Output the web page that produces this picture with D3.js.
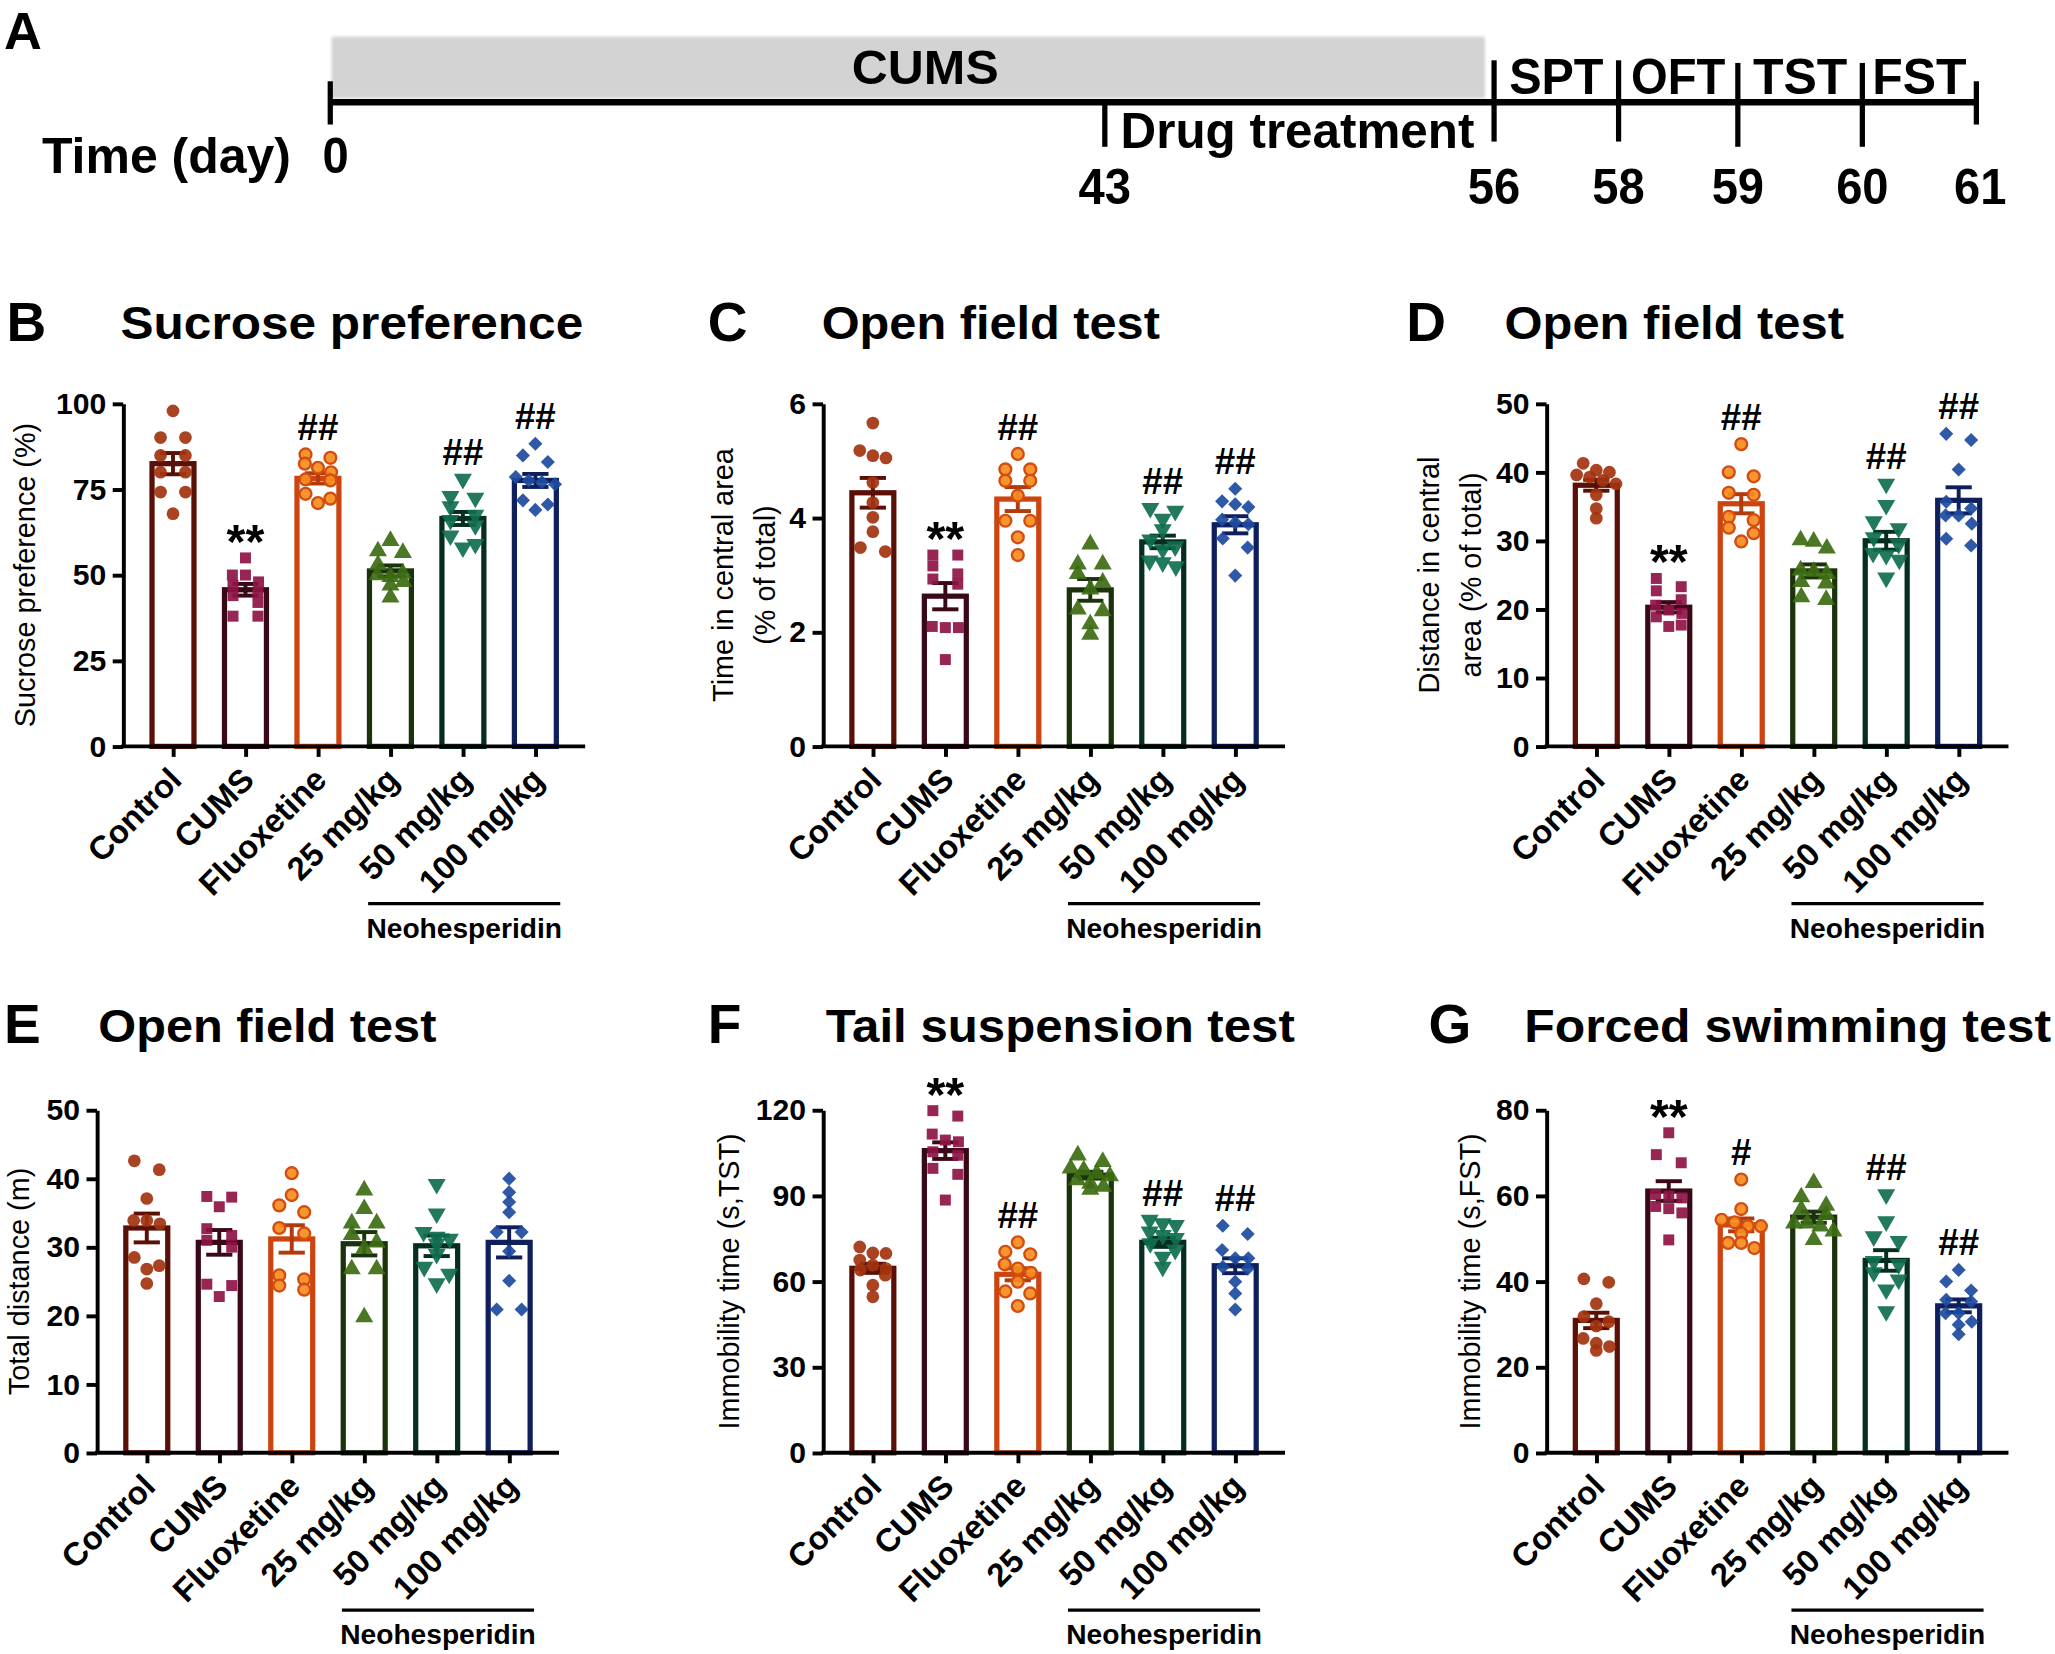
<!DOCTYPE html>
<html>
<head>
<meta charset="utf-8">
<script src="https://cdn.jsdelivr.net/npm/d3@7"></script>
<style>
  body { margin: 0; background: #fff; }
  text { font-family: "Liberation Sans", Arial, sans-serif; fill: #000; }
  .narrow { font-family: "Liberation Sans Narrow", "Arial Narrow", "Liberation Sans", sans-serif; font-weight: bold; }
</style>
</head>
<body>
<script>
// ---- data ----
const groups = ['Control', 'CUMS', 'Fluoxetine', '25 mg/kg', '50 mg/kg', '100 mg/kg'];

const timelineDays = [0, 43, 56, 58, 59, 60, 61];
const timelinePhases = ['SPT', 'OFT', 'TST', 'FST'];

// B: sucrose preference (%)
const sucrosePoints = [
  [97.9, 90.1, 90.1, 84.9, 84.9, 80.0, 80.0, 74.2, 74.2, 67.9],
  [55, 50, 50, 48, 47, 45, 44, 42, 38, 38],
  [85.2, 84.2, 82.5, 81.3, 80.0, 77.9, 77.6, 73.7, 72.3, 71.0],
  [60, 57, 56.5, 53, 50.5, 50, 49.5, 48, 47, 43.5],
  [78, 73, 72.5, 70, 67.5, 66, 64.5, 61.5, 59, 58],
  [88.3, 84.9, 83.0, 78.6, 77.6, 77.1, 76.5, 71.8, 70.6, 69.0]
];
const sucroseMeans = [82.5, 45.7, 78.2, 51.2, 66.5, 77.6];
const sucroseSems = [3.1, 1.7, 1.5, 1.6, 1.9, 1.9];
const sucroseSig = ['', '**', '##', '', '##', '##'];

// C: time in central area (% of total)
const centralTimePoints = [
  [5.66, 5.18, 5.09, 5.05, 4.62, 4.27, 4.01, 3.76, 3.48, 3.41],
  [3.35, 3.35, 3.16, 3.02, 2.93, 2.84, 2.10, 2.08, 2.08, 1.52],
  [5.12, 4.85, 4.85, 4.65, 4.65, 4.39, 3.95, 3.95, 3.66, 3.35],
  [3.54, 3.19, 3.19, 3.02, 2.87, 2.75, 2.40, 2.37, 2.14, 1.96],
  [4.17, 4.12, 3.98, 3.80, 3.62, 3.50, 3.45, 3.25, 3.22, 3.15],
  [4.51, 4.29, 4.24, 4.19, 3.97, 3.92, 3.89, 3.64, 3.48, 2.99]
];
const centralTimeMeans = [4.44, 2.63, 4.33, 2.74, 3.58, 3.88];
const centralTimeSems = [0.26, 0.23, 0.21, 0.19, 0.11, 0.15];
const centralTimeSig = ['', '**', '##', '', '##', '##'];

// D: distance in central area (% of total)
const centralDistPoints = [
  [41.3, 40.3, 40.0, 39.6, 39.3, 38.8, 38.3, 36.7, 34.7, 33.3],
  [24.5, 23.3, 22.7, 21.4, 20.6, 19.9, 19.4, 18.9, 17.7, 17.5],
  [44.1, 40.0, 39.4, 37.0, 36.7, 33.5, 33.0, 31.9, 31.1, 29.9],
  [30.1, 29.9, 28.9, 25.7, 25.5, 25.2, 24.0, 23.8, 21.8, 21.4],
  [38.3, 35.2, 32.8, 31.8, 30.5, 29.5, 28.2, 27.9, 27.2, 24.6],
  [45.6, 44.7, 40.4, 35.7, 34.7, 33.7, 33.7, 32.5, 30.3, 29.3]
];
const centralDistMeans = [38.1, 20.3, 35.4, 25.6, 30.0, 35.9];
const centralDistSems = [0.8, 0.75, 1.4, 0.95, 1.3, 1.9];
const centralDistSig = ['', '**', '##', '', '##', '##'];

// E: total distance (m)
const totalDistPoints = [
  [42.6, 41.3, 37.1, 33.9, 33.9, 33.4, 28.5, 27.3, 26.8, 24.7],
  [37.4, 37.3, 35.9, 32.7, 31.7, 31.0, 30.0, 24.6, 24.4, 22.8],
  [40.8, 37.6, 36.1, 35.1, 32.8, 32.0, 25.9, 25.3, 24.4, 23.8],
  [38.3, 35.6, 33.5, 33.5, 31.8, 30.7, 29.8, 26.8, 26.8, 19.8],
  [39.2, 34.9, 32.2, 31.5, 31.2, 30.5, 29.0, 27.1, 26.1, 24.7],
  [40.0, 38.0, 36.6, 35.1, 32.2, 32.2, 29.4, 25.1, 20.9, 20.9]
];
const totalDistMeans = [32.8, 30.7, 31.2, 30.5, 30.2, 30.7];
const totalDistSems = [2.1, 1.8, 2.0, 1.7, 1.5, 2.2];
const totalDistSig = ['', '', '', '', '', ''];

// F: immobility time, TST (s)
const tstPoints = [
  [72.1, 70.0, 69.8, 67.5, 65.7, 64.5, 64.0, 62.2, 58.7, 54.6],
  [119.8, 117.9, 111.6, 109.5, 108.9, 105.4, 104.2, 99.6, 97.5, 88.5],
  [73.7, 70.4, 69.5, 66.0, 64.5, 63.0, 59.9, 56.5, 55.8, 51.4],
  [104.2, 101.9, 99.6, 99.0, 97.8, 96.9, 95.5, 94.3, 93.2, 92.2],
  [81.5, 80.3, 79.7, 77.4, 76.2, 75.1, 73.3, 71.0, 68.6, 65.1],
  [79.5, 76.6, 71.0, 68.1, 68.1, 65.1, 64.5, 59.9, 55.8, 50.2]
];
const tstMeans = [64.6, 105.8, 62.5, 97.2, 73.7, 65.5];
const tstSems = [1.6, 2.9, 2.1, 1.2, 1.6, 2.6];
const tstSig = ['', '**', '##', '', '##', '##'];

// G: immobility time, FST (s)
const fstPoints = [
  [40.6, 39.8, 34.8, 31.8, 30.6, 29.6, 26.7, 25.6, 24.8, 23.9],
  [74.7, 69.6, 67.7, 60.3, 59.9, 59.5, 57.5, 57.0, 56.0, 49.7],
  [63.8, 56.9, 54.4, 53.8, 52.9, 52.9, 51.2, 49.0, 49.0, 47.8],
  [63.0, 59.7, 57.7, 56.8, 55.6, 53.6, 53.6, 52.9, 51.7, 49.7],
  [60.3, 54.0, 50.5, 49.4, 44.7, 44.0, 42.1, 40.4, 38.1, 33.0],
  [42.7, 40.0, 37.9, 35.7, 35.3, 32.6, 32.6, 30.6, 29.9, 27.7]
];
const fstMeans = [30.9, 61.1, 53.2, 55.0, 44.9, 34.3];
const fstSems = [1.8, 2.3, 1.5, 1.3, 2.4, 1.5];
const fstSig = ['', '**', '#', '', '##', '##'];

// ---- styles ----
const W = 1568, H = 1262;
const barColours = ['#5a1006', '#3a0918', '#cc4510', '#1b330c', '#062e20', '#0e1f5c'];
const dotColours = ['#a3330f', '#8f1446', '#f68c1f', '#3d6d13', '#0f6e4f', '#1d4b9f'];
const dotStroke = ['none', 'none', '#d24d0f', 'none', 'none', 'none'];
const dotTypes = [d3.symbolCircle, d3.symbolSquare, d3.symbolCircle, d3.symbolTriangle, d3.symbolTriangle, d3.symbolSquare];
const dotRotate = [0, 0, 0, 0, 180, 45];
const dotSize = [74, 70, 64, 82, 82, 58];

const svg = d3.select('body').append('svg')
  .attr('xmlns', 'http://www.w3.org/2000/svg')
  .attr('width', 2055)
  .attr('height', 1654)
  .attr('viewBox', `0 0 ${W} ${H}`);

svg.append('rect').attr('width', W).attr('height', H).attr('fill', '#fff');

const defs = svg.append('defs');
defs.append('filter').attr('id', 'soft')
  .attr('x', '-5%').attr('y', '-20%').attr('width', '110%').attr('height', '140%')
  .append('feGaussianBlur').attr('stdDeviation', 1.2);

// ---- panel A: timeline ----
const timeX = d3.scaleLinear()
  .domain(timelineDays)
  .range([252, 843, 1140, 1235, 1326, 1421, 1508]);
const lineY = 78;
const tl = svg.append('g');

tl.append('text').attr('x', 3).attr('y', 37)
  .attr('font-size', 40).attr('font-weight', 'bold').text('A');

tl.append('rect')
  .attr('x', timeX(0) + 1).attr('y', 28)
  .attr('width', timeX(56) - timeX(0) - 8).attr('height', lineY - 31)
  .attr('fill', '#d3d3d3').attr('filter', 'url(#soft)');

tl.append('text').attr('class', 'narrow')
  .attr('x', (timeX(0) + timeX(56)) / 2 + 10).attr('y', 64)
  .attr('text-anchor', 'middle').attr('font-size', 37)
  .attr('textLength', 112).attr('lengthAdjust', 'spacingAndGlyphs')
  .text('CUMS');

tl.append('line')
  .attr('x1', timeX(0)).attr('x2', timeX(61))
  .attr('y1', lineY).attr('y2', lineY)
  .attr('stroke', '#000').attr('stroke-width', 5);

const tickSpan = d => d === 0 || d === 61 ? [-16, 17] : d === 43 ? [0, 34] : d < 59 ? [-32, 30] : [-30, 34];
tl.selectAll('line.tick').data(timelineDays).enter().append('line')
  .attr('class', 'tick')
  .attr('x1', d => timeX(d)).attr('x2', d => timeX(d))
  .attr('y1', d => lineY + tickSpan(d)[0]).attr('y2', d => lineY + tickSpan(d)[1])
  .attr('stroke', '#000').attr('stroke-width', 4);

tl.selectAll('text.day').data(timelineDays).enter().append('text')
  .attr('class', 'day narrow')
  .attr('x', d => timeX(d) + (d === 0 ? 4 : d === 61 ? 3 : 0))
  .attr('y', d => d === 0 ? 132 : 156)
  .attr('text-anchor', 'middle').attr('font-size', 38)
  .attr('textLength', d => String(d).length * 20).attr('lengthAdjust', 'spacingAndGlyphs')
  .text(d => d);

tl.append('text').attr('class', 'narrow')
  .attr('x', 32).attr('y', 132).attr('font-size', 38)
  .attr('textLength', 190).attr('lengthAdjust', 'spacingAndGlyphs')
  .text('Time (day)');

tl.append('text').attr('class', 'narrow')
  .attr('x', timeX(43) + 12).attr('y', 113).attr('font-size', 38)
  .attr('textLength', 270).attr('lengthAdjust', 'spacingAndGlyphs')
  .text('Drug treatment');

tl.selectAll('text.phase').data(timelinePhases).enter().append('text')
  .attr('class', 'phase narrow')
  .attr('x', (d, i) => (timeX(timelineDays[i + 2]) + timeX(timelineDays[i + 3])) / 2)
  .attr('y', 72).attr('text-anchor', 'middle').attr('font-size', 38)
  .attr('textLength', 72).attr('lengthAdjust', 'spacingAndGlyphs')
  .text(d => d);

// ---- bar panels ----
const panels = [
  { letter: 'B', title: 'Sucrose preference', titleW: 353, yTitle: ['Sucrose preference (%)'], yTitleX: [27],
    points: sucrosePoints, means: sucroseMeans, sems: sucroseSems, sig: sucroseSig,
    domain: [0, 100], ticks: [0, 25, 50, 75, 100], left: 94, top: 308, letterX: 5, titleX: 92 },
  { letter: 'C', title: 'Open field test', titleW: 258, yTitle: ['Time in central area', '(% of total)'], yTitleX: [559, 591],
    points: centralTimePoints, means: centralTimeMeans, sems: centralTimeSems, sig: centralTimeSig,
    domain: [0, 6], ticks: [0, 2, 4, 6], left: 628, top: 308, letterX: 540, titleX: 627 },
  { letter: 'D', title: 'Open field test', titleW: 259, yTitle: ['Distance in central', 'area (% of total)'], yTitleX: [1098, 1130],
    points: centralDistPoints, means: centralDistMeans, sems: centralDistSems, sig: centralDistSig,
    domain: [0, 50], ticks: [0, 10, 20, 30, 40, 50], left: 1180, top: 308, letterX: 1073, titleX: 1148 },
  { letter: 'E', title: 'Open field test', titleW: 258, yTitle: ['Total distance (m)'], yTitleX: [22],
    points: totalDistPoints, means: totalDistMeans, sems: totalDistSems, sig: totalDistSig,
    domain: [0, 50], ticks: [0, 10, 20, 30, 40, 50], left: 74, top: 847, letterX: 3, titleX: 75 },
  { letter: 'F', title: 'Tail suspension test', titleW: 358, yTitle: ['Immobility time (s,TST)'], yTitleX: [564],
    points: tstPoints, means: tstMeans, sems: tstSems, sig: tstSig,
    domain: [0, 120], ticks: [0, 30, 60, 90, 120], left: 628, top: 847, letterX: 540, titleX: 630 },
  { letter: 'G', title: 'Forced swimming test', titleW: 402, yTitle: ['Immobility time (s,FST)'], yTitleX: [1129],
    points: fstPoints, means: fstMeans, sems: fstSems, sig: fstSig,
    domain: [0, 80], ticks: [0, 20, 40, 60, 80], left: 1180, top: 847, letterX: 1090, titleX: 1163 }
];

const plotH = 261.5;
const step = 55.3;
const firstGap = 38;
const axisLen = firstGap + step * 5 + 38;
const barW = 36;

// GraphPad-like scatter: values at nearly the same height share a row
function swarm(vals, y, tol) {
  const order = d3.range(vals.length).sort((a, b) => vals[b] - vals[a]);
  const off = new Array(vals.length).fill(0);
  let row = [];
  const flush = () => {
    const n = row.length;
    const gap = n === 2 ? 19 : 10;
    row.forEach((k, i) => { off[k] = (i - (n - 1) / 2) * gap; });
  };
  order.forEach(k => {
    if (row.length && (Math.abs(y(vals[k]) - y(vals[row[0]])) > tol || row.length === 4)) {
      flush();
      row = [];
    }
    row.push(k);
  });
  flush();
  return off;
}

panels.forEach(p => {
  const bottom = p.top + plotH;
  const g = svg.append('g');

  const x = d3.scalePoint()
    .domain(groups)
    .range([p.left + firstGap, p.left + firstGap + step * 5]);
  const y = d3.scaleLinear().domain(p.domain).range([bottom, p.top]);

  // headings
  const rowBase = p.top < 500 ? 259 : 795;
  g.append('text').attr('x', p.letterX).attr('y', rowBase + 1)
    .attr('font-size', 42).attr('font-weight', 'bold').text(p.letter);
  g.append('text').attr('x', p.titleX).attr('y', rowBase)
    .attr('font-size', 35).attr('font-weight', 'bold')
    .attr('textLength', p.titleW).attr('lengthAdjust', 'spacingAndGlyphs')
    .text(p.title);

  // y titles
  p.yTitle.forEach((t, i) => {
    g.append('text')
      .attr('transform', `translate(${p.yTitleX[i]},${(p.top + bottom) / 2}) rotate(-90)`)
      .attr('text-anchor', 'middle').attr('font-size', 22)
      .text(t);
  });

  // bars
  g.selectAll('rect.bar').data(p.means).enter().append('rect')
    .attr('class', 'bar')
    .attr('x', (d, i) => x(groups[i]) - barW / 2 + 2)
    .attr('width', barW - 4)
    .attr('y', d => y(d))
    .attr('height', d => bottom - y(d))
    .attr('fill', '#fff')
    .attr('stroke', (d, i) => barColours[i])
    .attr('stroke-width', 4);

  // error bars (mean ± SEM)
  const eb = g.selectAll('g.err').data(p.means).enter().append('g')
    .attr('class', 'err')
    .attr('stroke', (d, i) => i === 2 ? '#b33a0c' : barColours[i])
    .attr('stroke-width', 3);
  eb.append('line')
    .attr('x1', (d, i) => x(groups[i])).attr('x2', (d, i) => x(groups[i]))
    .attr('y1', (d, i) => y(d - p.sems[i])).attr('y2', (d, i) => y(d + p.sems[i]));
  [-1, 1].forEach(s => {
    eb.append('line')
      .attr('x1', (d, i) => x(groups[i]) - 10).attr('x2', (d, i) => x(groups[i]) + 10)
      .attr('y1', (d, i) => y(d + s * p.sems[i])).attr('y2', (d, i) => y(d + s * p.sems[i]));
  });

  // individual animals
  p.points.forEach((vals, i) => {
    const off = swarm(vals, y, 7);
    const sym = d3.symbol().type(dotTypes[i]).size(dotSize[i]);
    g.append('g').selectAll('path').data(vals).enter().append('path')
      .attr('d', sym)
      .attr('transform', (d, k) => `translate(${x(groups[i]) + off[k]},${y(d)}) rotate(${dotRotate[i]})`)
      .attr('fill', dotColours[i])
      .attr('fill-opacity', 0.92)
      .attr('stroke', dotStroke[i])
      .attr('stroke-width', 1.8);
  });

  // significance marks
  g.selectAll('text.sig').data(p.sig).enter().append('text')
    .attr('class', 'sig')
    .attr('x', (d, i) => x(groups[i]))
    .attr('y', (d, i) => y(d3.max(p.points[i])) + (d.startsWith('*') ? 0 : -11))
    .attr('text-anchor', 'middle')
    .attr('font-size', d => d.startsWith('*') ? 37 : 28)
    .attr('font-weight', 'bold')
    .text(d => d);

  // axes
  const yAxis = d3.axisLeft(y).tickValues(p.ticks).tickFormat(d3.format('~g'))
    .tickSize(8).tickSizeOuter(0).tickPadding(5);
  const ya = g.append('g').attr('transform', `translate(${p.left},0)`).call(yAxis);
  ya.select('.domain').attr('stroke-width', 3);
  ya.selectAll('.tick line').attr('stroke-width', 3);
  ya.selectAll('.tick text').attr('font-size', 23).attr('font-weight', 'bold')
    .attr('font-family', '"Liberation Sans", Arial, sans-serif').attr('fill', '#000');

  const xa = g.append('g').attr('transform', `translate(0,${bottom})`);
  xa.append('line').attr('x1', p.left - 1.5).attr('x2', p.left + axisLen)
    .attr('stroke', '#000').attr('stroke-width', 3);
  xa.call(d3.axisBottom(x).tickSize(8).tickSizeOuter(0).tickFormat(''));
  xa.select('.domain').remove();
  xa.selectAll('.tick line').attr('stroke-width', 3);

  g.selectAll('text.cat').data(groups).enter().append('text')
    .attr('class', 'cat')
    .attr('transform', d => `translate(${x(d) + 8},${bottom + 27}) rotate(-45)`)
    .attr('text-anchor', 'end').attr('font-size', 25).attr('font-weight', 'bold')
    .text(d => d);

  // bracket for neohesperidin doses
  g.append('line')
    .attr('x1', x(groups[3]) - 17).attr('x2', x(groups[5]) + 19)
    .attr('y1', bottom + 120).attr('y2', bottom + 120)
    .attr('stroke', '#000').attr('stroke-width', 2.5);
  g.append('text')
    .attr('x', (x(groups[3]) + x(groups[5])) / 2 + 1).attr('y', bottom + 146)
    .attr('text-anchor', 'middle').attr('font-size', 21.5).attr('font-weight', 'bold')
    .text('Neohesperidin');
});
</script>
</body>
</html>
